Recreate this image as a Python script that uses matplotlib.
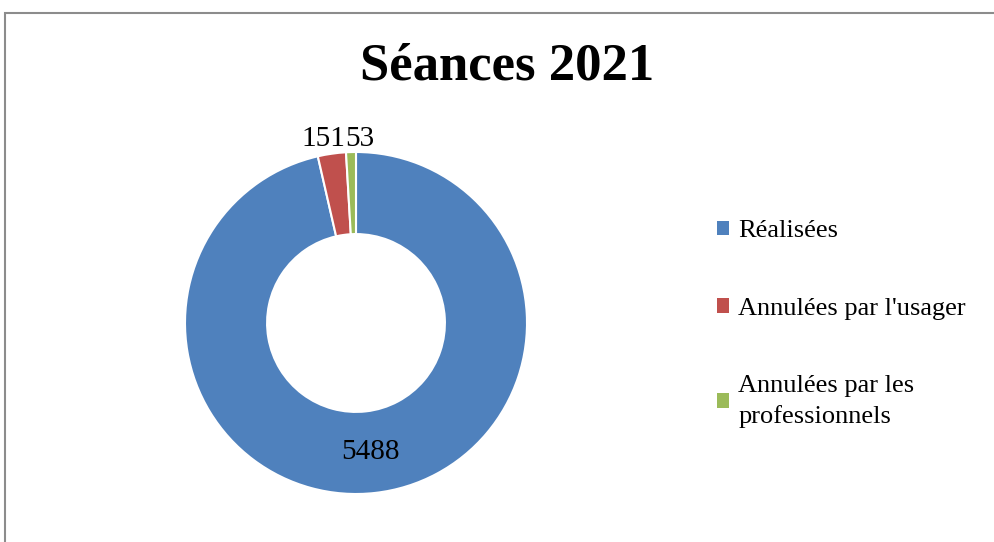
import matplotlib.pyplot as plt
import numpy as np
from matplotlib.patches import Patch, Rectangle

labels = ["Réalisées", "Annulées par l'usager", "Annulées par les\nprofessionnels"]
values = [5488, 151, 53]
colors = ["#4F81BD", "#C0504D", "#9BBB59"]

plt.rcParams['font.family'] = ['Liberation Serif', 'DejaVu Serif']

fig = plt.figure(figsize=(9.95, 5.42), dpi=100)

# frame around the chart (cut off on the right and bottom)
fig.patches.append(Rectangle((5 / 995, -0.1), 1.2, (542 - 13) / 542 + 0.1,
                             transform=fig.transFigure, fill=False,
                             edgecolor="#8c8c8c", linewidth=1.5))

W, H = 995, 542
cx, cy, r = 356, 323, 171
ax = fig.add_axes([(cx - r) / W, (H - cy - r) / H, 2 * r / W, 2 * r / H])

wedges, _ = ax.pie(values, colors=colors, startangle=90, counterclock=False,
                   radius=1, wedgeprops=dict(width=0.48, edgecolor="white", linewidth=1.5))
ax.set_xlim(-1, 1)
ax.set_ylim(-1, 1)
ax.set_aspect("equal")
ax.axis("off")

total = sum(values)
frac = np.cumsum([0] + values) / total
# big slice label in the middle of the ring
mid = np.deg2rad(90 - 360 * (frac[0] + frac[1]) / 2)
ax.text(0.76 * np.cos(mid), 0.76 * np.sin(mid), str(values[0]),
        ha="center", va="center", fontsize=21)
# small slices labels outside, split at their shared border
b = np.deg2rad(90 - 360 * frac[2])
bx, by = 1.08 * np.cos(b), 1.08 * np.sin(b)
ax.text(bx, by, str(values[1]), ha="right", va="center", fontsize=21)
ax.text(bx, by, str(values[2]), ha="left", va="center", fontsize=21)

fig.text(0.51, 0.878, "Séances 2021", ha="center", va="center",
         fontsize=38, fontweight="bold")

handles = [Patch(facecolor=c, edgecolor="none") for c in colors]
leg = fig.legend(handles, labels, loc="upper left", bbox_to_anchor=(0.697, 0.637),
                 frameon=False, fontsize=19, handlelength=0.45, handleheight=0.45,
                 handletextpad=0.35, labelspacing=2.1)
for t in leg.get_texts():
    t.set_linespacing(1.4)

fig.savefig("out.png", dpi=100)
